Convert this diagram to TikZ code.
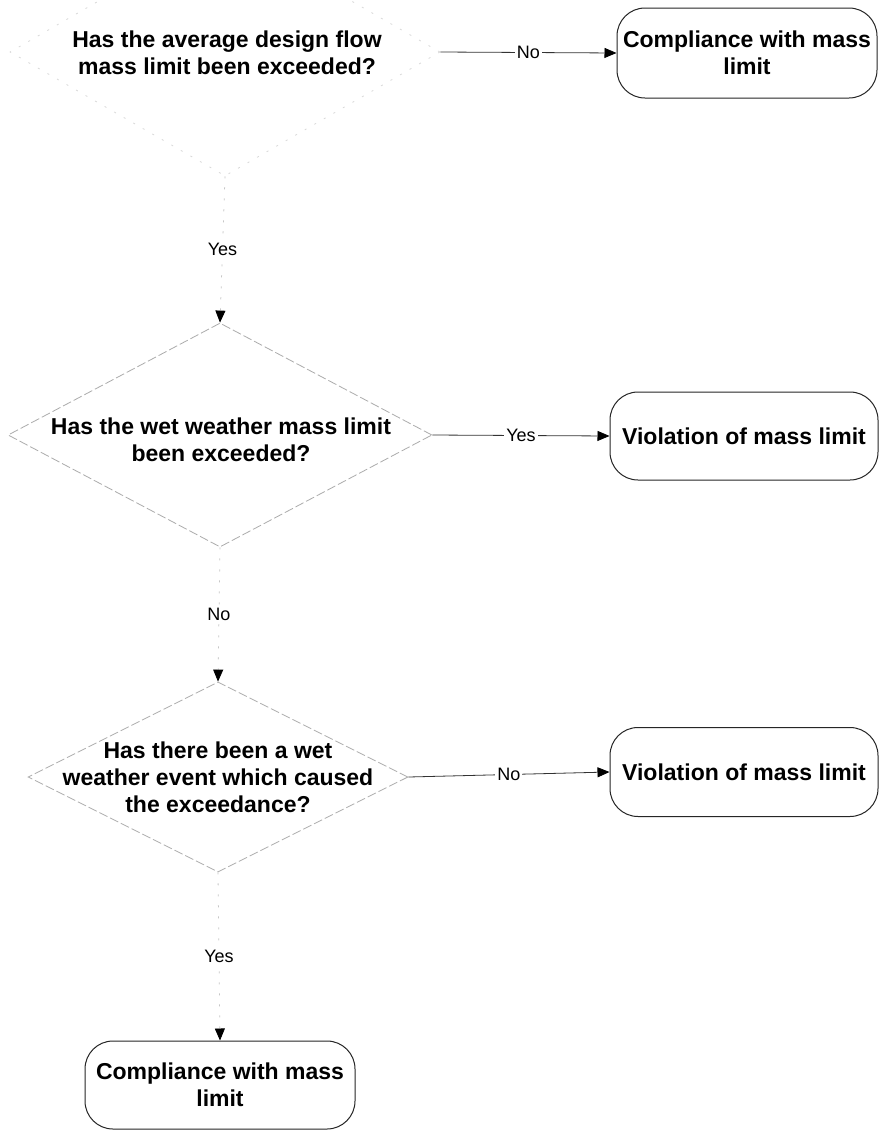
\documentclass[tikz,border=0pt]{standalone}
\usepackage{fontspec}
\setmainfont{Liberation Sans}
\usetikzlibrary{shapes.geometric,arrows.meta}
\begin{document}
\begin{tikzpicture}[x=1pt,y=-1pt,
  dmd/.style={shape=diamond, inner sep=0pt, draw=gray!65, line width=0.8pt,
    dash pattern=on 9pt off 3pt},
  faintdmd/.style={dmd, draw=gray!30, dash pattern=on 2pt off 9pt},
  qtext/.style={align=center, font=\bfseries\fontsize{23}{27}\selectfont, inner sep=0pt},
  term/.style={draw=gray!30!black, line width=1pt, rounded corners=28pt,
    align=center, font=\bfseries\fontsize{23}{27}\selectfont, inner sep=0pt},
  tip/.style={-{Triangle[length=12pt,width=10pt,black]}},
  hconn/.style={tip, draw=gray!40!black, line width=0.8pt},
  vconn/.style={tip, draw=gray!45, line width=0.8pt, dash pattern=on 2pt off 9pt},
  lbl/.style={fill=white, inner sep=2pt, font=\fontsize{18}{20}\selectfont}]
\useasboundingbox (0,0) rectangle (880,1130);
\clip (0,0) rectangle (880,1130);
\fill[white] (0,0) rectangle (880,1130);

% first decision (its upper half runs off the sheet)
\node[faintdmd, minimum width=430, minimum height=248] (q1) at (225,52) {};
\node[qtext] (q1t) at (227,53) {Has the average design flow\\mass limit been exceeded?};
\node[term, minimum width=260, minimum height=90] (c1) at (747,53) {Compliance with mass\\limit};

% second decision
\node[dmd, minimum width=424, minimum height=224] (q2) at (220,435) {};
\node[qtext] (q2t) at (221,440) {Has the wet weather mass limit\\been exceeded?};
\node[term, minimum width=268, minimum height=88] (v1) at (744,436) {Violation of mass limit};

% third decision
\node[dmd, minimum width=380, minimum height=190] (q3) at (218,777) {};
\node[qtext] (q3t) at (218,777) {Has there been a wet\\weather event which caused\\the exceedance?};
\node[term, minimum width=268, minimum height=89] (v2) at (744,772) {Violation of mass limit};

% final outcome
\node[term, minimum width=270, minimum height=88] (c2) at (220,1085) {Compliance with mass\\limit};

% connectors
\draw[hconn] (q1.east) -- node[lbl] {No} (c1.west);
\draw[hconn] (q2.east) -- node[lbl] {Yes} (v1.west);
\draw[hconn] (q3.east) -- node[lbl] {No} (v2.west);
\draw[vconn] (q1.south) -- node[lbl] {Yes} (q2.north);
\draw[vconn] (q2.south) -- node[lbl] {No} (q3.north);
\draw[vconn] (q3.south) -- node[lbl] {Yes} (c2.north);
\end{tikzpicture}
\end{document}
